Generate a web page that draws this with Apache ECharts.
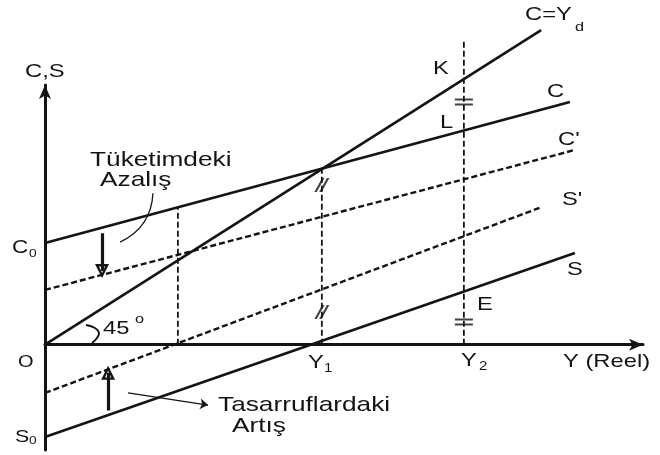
<!DOCTYPE html>
<html>
<head>
<meta charset="utf-8">
<script src="https://cdn.jsdelivr.net/npm/echarts@6/dist/echarts.min.js"></script>
<style>
  html, body { margin: 0; background: #fff; }
  #chart { width: 660px; height: 455px; }
</style>
</head>
<body>
<div id="chart"></div>
<script>
// [Y, C or S] pairs, C = Yd is the 45 degree line
const lineCYd = [[0, 0], [179.2, 179.3]];
const lineC = [[0, 58.0], [189.6, 138.3]];
const lineC2 = [[0, 31.2], [191.4, 111.0]];
const lineS2 = [[0, -27.5], [179.5, 78.5]];
const lineS = [[0, -52.6], [191.4, 52.3]];
// dashed guides at the left point, Y1 and Y2
const guideLeft = [[48, 0], [48, 78.3]];
const guideY1 = [[100, 0], [100, 100]];
const guideY2 = [[151.3, 0], [151.3, 173.6]];
// equal-distance marks
const slashMarks = [[100, 91], [100, 18.6]];
const equalMarks = [[151.3, 138.3], [151.3, 13]];
// arrows and pointers
const downArrow = [[20.6, 63.5], [20.6, 42]];
const upArrow = [[22.8, -37.5], [22.8, -16]];
const pointerSaving = [[30, -27.5], [58.9, -34.4]];
const pointerCons = [[39, 86.3], [27.1, 58.5]];

const ink = '#141414';
const font = 'Liberation Sans, Arial, sans-serif';
const sx = 1.25;
// hollow arrow head, tip up
const hollowHead = 'path://M5,0L10,14L0,14Z M5,5L2.8,11.6L7.2,11.6Z';

function solid(data) {
  return {
    type: 'line', data: data, symbol: 'none', clip: false, silent: true,
    lineStyle: { color: ink, width: 2.6 }
  };
}
function dashed(data, w) {
  return {
    type: 'line', data: data, symbol: 'none', clip: false, silent: true,
    lineStyle: { color: ink, width: w || 2.4, type: [6, 3] }
  };
}
function arrow(data, w, head, size, curve) {
  return {
    type: 'lines', coordinateSystem: 'cartesian2d', silent: true,
    symbol: ['none', head || 'none'], symbolSize: size || 0,
    lineStyle: { color: ink, width: w, curveness: curve || 0, opacity: 1 },
    data: [{ coords: data }]
  };
}
function txt(s, x, y, size) {
  return {
    type: 'text', x: x, y: y, scaleX: sx, silent: true,
    style: {
      text: s, fontSize: size || 19, fontFamily: font, fill: ink,
      textAlign: 'left', verticalAlign: 'middle', textVerticalAlign: 'middle'
    }
  };
}

const chart = echarts.init(document.getElementById('chart'));
chart.setOption({
  animation: false,
  backgroundColor: '#fff',
  grid: { left: 45, right: 17, top: 85, bottom: 5 },
  xAxis: {
    type: 'value', min: 0, max: 216,
    axisLine: { onZero: true, symbol: ['none', 'arrow'], symbolSize: [9, 14],
      lineStyle: { color: ink, width: 3 } },
    axisTick: { show: false }, axisLabel: { show: false }, splitLine: { show: false }
  },
  yAxis: {
    type: 'value', min: -60, max: 148,
    axisLine: { show: true, onZero: true, symbol: ['none', 'arrow'], symbolSize: [9, 14],
      lineStyle: { color: ink, width: 3 } },
    axisTick: { show: false }, axisLabel: { show: false }, splitLine: { show: false }
  },
  series: [
    solid(lineCYd),
    solid(lineC),
    solid(lineS),
    dashed(lineC2),
    dashed(lineS2),
    dashed(guideLeft, 1.8),
    dashed(guideY1, 1.8),
    dashed(guideY2, 1.8),
    {
      type: 'scatter', data: slashMarks, silent: true,
      symbol: 'path://M0,14L8,0L10.5,0L2.5,14Z M5,14L13,0L15.5,0L7.5,14Z',
      symbolSize: [15, 14], symbolKeepAspect: false, itemStyle: { color: ink }
    },
    {
      type: 'scatter', data: equalMarks, silent: true,
      symbol: 'path://M0,0H18V2H0Z M0,5H18V7H0Z',
      symbolSize: [18, 7], symbolKeepAspect: false, itemStyle: { color: ink }
    },
    arrow(downArrow, 3.2, hollowHead, [10, 14]),
    arrow(upArrow, 3.2, hollowHead, [10, 14]),
    arrow(pointerSaving, 1.3, 'arrow', 8),
    arrow(pointerCons, 1.3, null, 0, 0.3)
  ],
  graphic: [
    txt('C,S', 25, 71.5),
    txt('C=Y', 525, 15),
    txt('d', 575, 27, 13),
    txt('K', 433, 69),
    txt('C', 547, 92),
    txt('L', 440, 122.5),
    txt('C\'', 558, 139.5),
    txt('S\'', 562, 200),
    txt('S', 567, 270),
    txt('E', 477, 305),
    txt('Y', 461, 361),
    txt('2', 479, 367, 12),
    txt('Y (Reel)', 563, 362),
    txt('Y', 308, 363),
    txt('1', 324, 369, 12),
    txt('O', 18, 363, 16),
    txt('C', 12, 248.5, 18),
    txt('0', 29, 254, 11),
    txt('S', 15, 437.5, 17),
    txt('0', 29, 441, 11),
    txt('45', 103, 329),
    txt('o', 135, 319, 13),
    txt('Tüketimdeki', 90, 160.5, 21),
    txt('Azalış', 100, 180.5, 21),
    txt('Tasarruflardaki', 218, 405, 21),
    txt('Artış', 232, 426, 21),
    {
      type: 'polyline', silent: true,
      shape: { points: [[92, 343], [97, 338], [99, 333], [95, 328], [86, 325]], smooth: 0.4 },
      style: { stroke: ink, lineWidth: 2, fill: null }
    }
  ]
});
</script>
</body>
</html>
